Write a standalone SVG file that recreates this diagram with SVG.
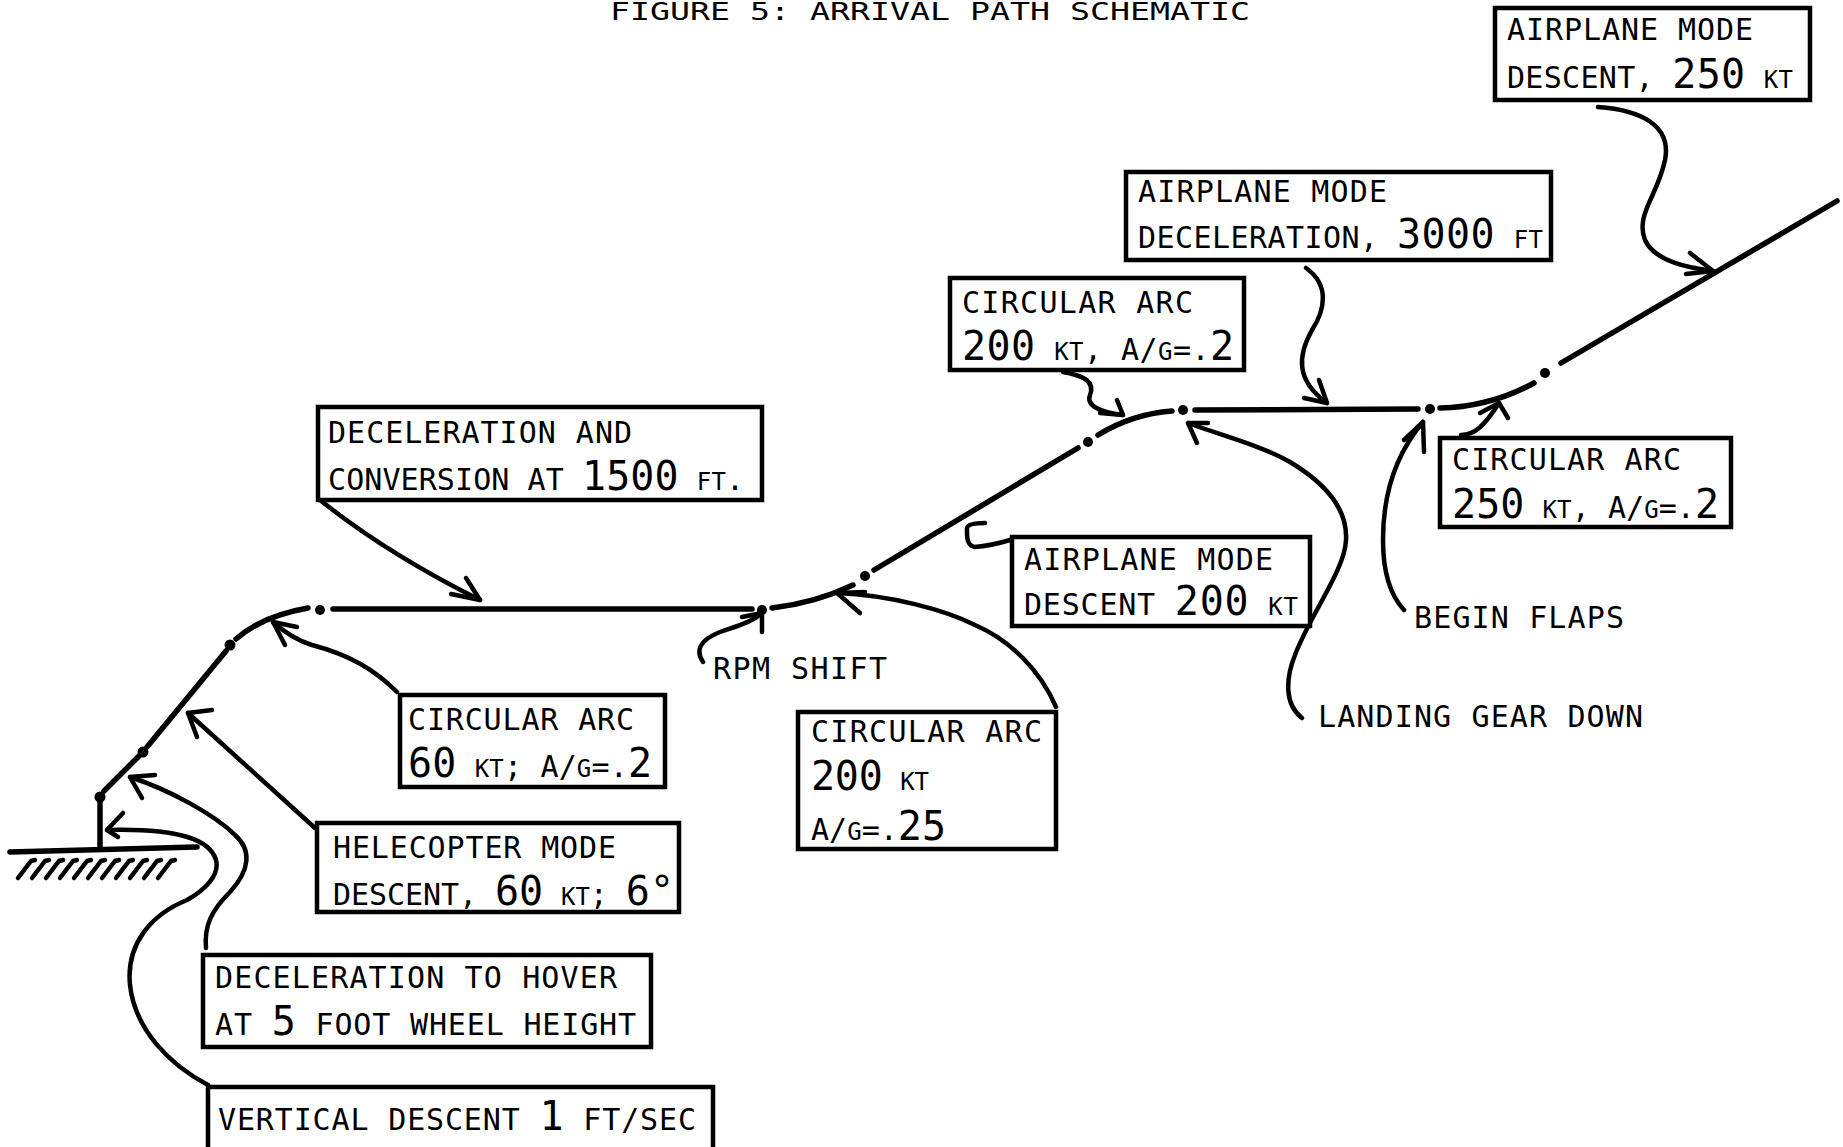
<svg xmlns="http://www.w3.org/2000/svg" width="1843" height="1147" viewBox="0 0 1843 1147">
<style>
  text { font-family: "DejaVu Sans Mono", "Liberation Mono", monospace; fill: #000; }
  .t { font-size: 30px; }
  .d { font-size: 40px; }
  .s { font-size: 24px; }
  .title { font-size: 24px; }
  .box { fill: #fff; stroke: #000; stroke-width: 4.5; }
  .p { fill: none; stroke: #000; stroke-width: 5.5; stroke-linecap: round; }
  .c { fill: none; stroke: #000; stroke-width: 4.5; stroke-linecap: round; stroke-linejoin: round; }
  .dot { fill: #000; }
</style>
<rect x="0" y="0" width="1843" height="1147" fill="#fff"/>

<text class="title" x="610" y="20" textLength="640" lengthAdjust="spacingAndGlyphs">FIGURE 5:  ARRIVAL PATH SCHEMATIC</text>

<g id="path">
  <path class="p" d="M10,852 L197,847"/>
  <g class="c">
    <path d="M18,878 L31,861 L35,860 M32,878 L45,861 L49,860 M46,878 L59,861 L63,860 M60,878 L73,861 L77,860 M74,878 L87,861 L91,860 M88,878 L101,861 L105,860 M102,878 L115,861 L119,860 M116,878 L129,861 L133,860 M130,878 L143,861 L147,860 M144,878 L157,861 L161,860 M158,878 L171,861 L175,860"/>
  </g>
  <path class="p" d="M100,848 L100,801"/>
  <circle class="dot" cx="100" cy="797" r="5.5"/>
  <path class="p" d="M104,791 L139,756"/>
  <circle class="dot" cx="143" cy="752" r="5.5"/>
  <path class="p" d="M147,747 L226,651"/>
  <circle class="dot" cx="230" cy="645" r="5.5"/>
  <path class="p" d="M236,639 Q262,616 308,608"/>
  <circle class="dot" cx="320" cy="610" r="5"/>
  <path class="p" d="M333,609 L752,609"/>
  <circle class="dot" cx="762" cy="610" r="5"/>
  <path class="p" d="M772,608 Q815,603 853,585"/>
  <circle class="dot" cx="865" cy="576" r="5"/>
  <path class="p" d="M874,570 L1078,448"/>
  <circle class="dot" cx="1088" cy="442" r="5"/>
  <path class="p" d="M1098,435 Q1132,414 1172,411"/>
  <circle class="dot" cx="1183" cy="410" r="5"/>
  <path class="p" d="M1195,410 L1418,409"/>
  <circle class="dot" cx="1430" cy="409" r="5"/>
  <path class="p" d="M1440,408 Q1490,407 1534,383"/>
  <circle class="dot" cx="1545" cy="373" r="5"/>
  <path class="p" d="M1561,363 L1837,201"/>
</g>

<g id="connectors">
  <path class="c" d="M1598,107 C1640,110 1672,125 1665,160 C1658,195 1635,215 1645,240 C1655,262 1690,268 1713,271"/>
  <path class="c" d="M1690,253 L1713,271 L1686,274"/>
  <path class="c" d="M1306,268 C1330,285 1325,310 1312,330 C1298,355 1295,380 1327,403"/>
  <path class="c" d="M1319,380 L1327,403 L1304,398"/>
  <path class="c" d="M1063,372 C1085,376 1095,382 1090,395 C1086,406 1100,412 1123,415"/>
  <path class="c" d="M1117,400 L1123,415 L1100,413"/>
  <path class="c" d="M1302,718 C1285,705 1285,680 1295,655 C1310,615 1345,570 1346,540 C1348,505 1320,480 1290,462 C1260,445 1220,435 1188,423"/>
  <path class="c" d="M1197,443 L1188,423 L1208,423"/>
  <path class="c" d="M1404,610 C1390,595 1383,570 1383,540 C1383,495 1395,455 1423,422"/>
  <path class="c" d="M1404,440 L1423,422 L1424,452"/>
  <path class="c" d="M1461,435 C1475,435 1485,425 1499,403"/>
  <path class="c" d="M1480,413 L1499,403 L1508,418"/>
  <path class="c" d="M1010,540 C1000,543 990,546 975,547 C966,546 967,535 967,528 C968,524 975,523 985,523"/>
  <path class="c" d="M1056,707 C1040,670 1010,640 975,625 C945,610 890,595 837,593"/>
  <path class="c" d="M865,592 L837,593 L860,613"/>
  <path class="c" d="M320,500 C370,540 420,570 480,600"/>
  <path class="c" d="M466,578 L480,600 L451,594"/>
  <path class="c" d="M703,662 C695,650 700,640 720,632 C740,625 752,622 762,613"/>
  <path class="c" d="M742,617 L762,613 L762,632"/>
  <path class="c" d="M397,692 C375,670 350,655 312,645 C295,640 282,630 273,622"/>
  <path class="c" d="M297,627 L273,622 L285,645"/>
  <path class="c" d="M315,828 L188,713"/>
  <path class="c" d="M212,710 L188,713 L197,737"/>
  <path class="c" d="M206,948 C204,925 212,910 230,892 C250,870 252,850 235,835 C215,815 170,790 130,777"/>
  <path class="c" d="M155,775 L130,777 L142,798"/>
  <path class="c" d="M208,1085 C170,1065 135,1030 130,985 C126,945 150,915 187,900 C205,890 220,875 216,860 C210,840 180,828 107,830"/>
  <path class="c" d="M123,813 L107,830 L118,837"/>
</g>

<g id="node-airplane-descent-250">
  <rect class="box" x="1495" y="8" width="315" height="92"/>
  <text class="t" x="1507" y="40" textLength="246">AIRPLANE MODE</text>
  <text class="t" x="1507" y="88" textLength="286">DESCENT, <tspan class="d">250</tspan> <tspan class="s">KT</tspan></text>
</g>

<g id="node-airplane-decel-3000">
  <rect class="box" x="1126" y="172" width="425" height="88"/>
  <text class="t" x="1138" y="202" textLength="249">AIRPLANE MODE</text>
  <text class="t" x="1138" y="248" textLength="405">DECELERATION, <tspan class="d">3000</tspan> <tspan class="s">FT</tspan></text>
</g>

<g id="node-arc-200-a">
  <rect class="box" x="950" y="278" width="294" height="92"/>
  <text class="t" x="962" y="313" textLength="231">CIRCULAR ARC</text>
  <text class="t" x="962" y="360" textLength="272"><tspan class="d">200</tspan> <tspan class="s">KT</tspan>, A/<tspan class="s">G</tspan>=.<tspan class="d">2</tspan></text>
</g>

<g id="node-decel-conversion">
  <rect class="box" x="318" y="407" width="444" height="93"/>
  <text class="t" x="328" y="443" textLength="304">DECELERATION AND</text>
  <text class="t" x="328" y="490" textLength="416">CONVERSION AT <tspan class="d">1500</tspan> <tspan class="s">FT</tspan>.</text>
</g>

<g id="node-airplane-descent-200">
  <rect class="box" x="1012" y="537" width="298" height="89"/>
  <text class="t" x="1024" y="570" textLength="249">AIRPLANE MODE</text>
  <text class="t" x="1024" y="615" textLength="274">DESCENT <tspan class="d">200</tspan> <tspan class="s">KT</tspan></text>
</g>

<g id="node-arc-250">
  <rect class="box" x="1440" y="438" width="291" height="89"/>
  <text class="t" x="1452" y="470" textLength="229">CIRCULAR ARC</text>
  <text class="t" x="1452" y="518" textLength="267"><tspan class="d">250</tspan> <tspan class="s">KT</tspan>, A/<tspan class="s">G</tspan>=.<tspan class="d">2</tspan></text>
</g>

<g id="node-arc-60">
  <rect class="box" x="400" y="695" width="265" height="92"/>
  <text class="t" x="408" y="730" textLength="226">CIRCULAR ARC</text>
  <text class="t" x="408" y="777" textLength="244"><tspan class="d">60</tspan> <tspan class="s">KT</tspan>; A/<tspan class="s">G</tspan>=.<tspan class="d">2</tspan></text>
</g>

<g id="node-arc-200-b">
  <rect class="box" x="798" y="712" width="258" height="137"/>
  <text class="t" x="811" y="742" textLength="231">CIRCULAR ARC</text>
  <text class="t" x="811" y="790" textLength="118"><tspan class="d">200</tspan> <tspan class="s">KT</tspan></text>
  <text class="t" x="811" y="840" textLength="135">A/<tspan class="s">G</tspan>=.<tspan class="d">25</tspan></text>
</g>

<g id="node-helecopter-descent">
  <rect class="box" x="317" y="823" width="362" height="89"/>
  <text class="t" x="333" y="858" textLength="283">HELECOPTER MODE</text>
  <text class="t" x="333" y="905" textLength="341">DESCENT, <tspan class="d">60</tspan> <tspan class="s">KT</tspan>; <tspan class="d">6°</tspan></text>
</g>

<g id="node-decel-hover">
  <rect class="box" x="203" y="955" width="448" height="92"/>
  <text class="t" x="215" y="988" textLength="402">DECELERATION TO HOVER</text>
  <text class="t" x="215" y="1035" textLength="421">AT <tspan class="d">5</tspan> FOOT WHEEL HEIGHT</text>
</g>

<g id="node-vertical-descent">
  <rect class="box" x="208" y="1087" width="505" height="64"/>
  <text class="t" x="218" y="1130" textLength="478">VERTICAL DESCENT <tspan class="d">1</tspan> FT/SEC</text>
</g>

<g id="label-rpm-shift">
  <text class="t" x="713" y="679" textLength="174">RPM SHIFT</text>
</g>
<g id="label-landing-gear">
  <text class="t" x="1318" y="727" textLength="325">LANDING GEAR DOWN</text>
</g>
<g id="label-begin-flaps">
  <text class="t" x="1414" y="628" textLength="210">BEGIN FLAPS</text>
</g>
</svg>
